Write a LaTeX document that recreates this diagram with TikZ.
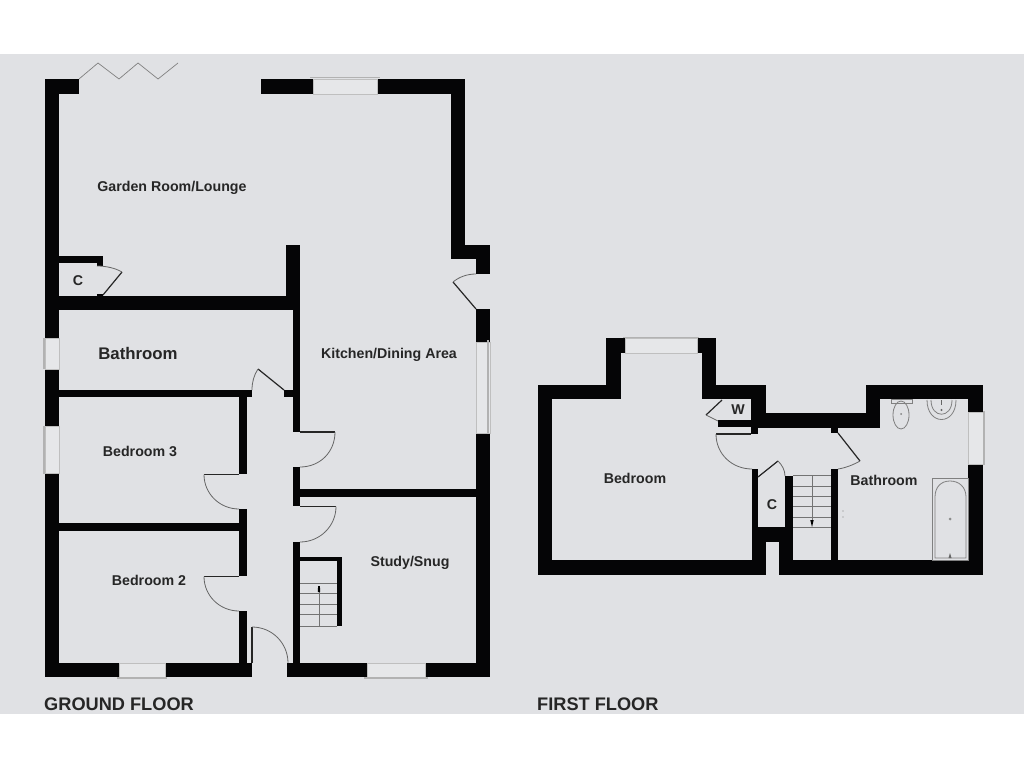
\documentclass[tikz,border=0pt]{standalone}
\usepackage{fontspec}
\setmainfont{Liberation Sans}
\definecolor{bgc}{HTML}{E0E1E4}
\definecolor{winc}{HTML}{E6E7E9}
\definecolor{wallc}{HTML}{050506}
\tikzset{
  wall/.style={fill=wallc,draw=none},
  leaf/.style={draw=black!85,line width=1.2pt},
  swing/.style={draw=black!60,line width=0.8pt},
  thin/.style={draw=black!55,line width=0.7pt},
  fix/.style={draw=black!50,line width=0.8pt,fill=none},
  winpane/.style={fill=winc,draw=black!25,line width=0.6pt},
  winedge/.style={draw=black!30,line width=1.2pt},
  room/.style={font=\bfseries\fontsize{14.2}{16}\selectfont,text=black!85,inner sep=0pt},
  title/.style={font=\bfseries\fontsize{18.2}{20}\selectfont,text=black!85,inner sep=0pt,anchor=west},
}
\begin{document}
\begin{tikzpicture}[x=1pt,y=-1pt]
\path[use as bounding box,fill=white] (0,0) rectangle (1024,768);
\fill[bgc] (0,54) rectangle (1024,714);

% ---------- GROUND FLOOR walls
\fill[wall] (45,79) rectangle (79,94);
\fill[wall] (45,79) rectangle (59,338);
\fill[wall] (45,369) rectangle (59,426);
\fill[wall] (45,473) rectangle (59,677);
\fill[wall] (261,79) rectangle (313,94);
\fill[wall] (377,79) rectangle (465,94);
\fill[wall] (451,79) rectangle (465,259);
\fill[wall] (451,245) rectangle (490,259);
\fill[wall] (476,245) rectangle (490,274);
\fill[wall] (476,309) rectangle (490,342);
\fill[wall] (476,433) rectangle (490,677);
\fill[wall] (45,663) rectangle (119,677);
\fill[wall] (165,663) rectangle (252,677);
\fill[wall] (287,663) rectangle (367,677);
\fill[wall] (425,663) rectangle (490,677);
% cupboard
\fill[wall] (59,256) rectangle (103,263);
\fill[wall] (97,263) rectangle (103,266);
\fill[wall] (97,294) rectangle (103,296);
% inner walls
\fill[wall] (59,296) rectangle (293,310);
\fill[wall] (286,245) rectangle (300,310);
\fill[wall] (293,310) rectangle (300,432);
\fill[wall] (284,390) rectangle (293,397);
\fill[wall] (59,390) rectangle (252,397);
\fill[wall] (239,397) rectangle (247,474);
\fill[wall] (239,509) rectangle (247,576);
\fill[wall] (239,611) rectangle (247,663);
\fill[wall] (59,523) rectangle (239,531);
\fill[wall] (293,467) rectangle (300,506);
\fill[wall] (300,489) rectangle (476,497);
\fill[wall] (293,542) rectangle (300,663);
% stairs walls
\fill[wall] (300,557) rectangle (342,561);
\fill[wall] (337,557) rectangle (342,626);

% ---------- ground windows
\fill[winpane] (313,79) rectangle (377,94);
\draw[winedge] (310,77.5) -- (380,77.5);
\fill[winpane] (45,338) rectangle (59,369);
\draw[winedge] (44,338) -- (44,369);
\fill[winpane] (45,426) rectangle (59,473);
\draw[winedge] (44,426) -- (44,474);
\fill[winpane] (476,342) rectangle (490,433);
\draw[winedge] (488,340) -- (488,433);
\fill[winpane] (119,663) rectangle (165,677);
\draw[winedge] (117,678) -- (167,678);
\fill[winpane] (367,663) rectangle (425,677);
\draw[winedge] (364,678) -- (428,678);

% ---------- ground doors
\draw[thin,black!50] (79,79) -- (98,63) -- (119,79) -- (138,63) -- (158,79) -- (178,63);
\draw[leaf] (103,295) -- (122,272);
\draw[swing] (122,272) .. controls (115,268) and (106,266) .. (97,266);
\draw[leaf] (476,309) -- (453,282);
\draw[swing] (453,282) .. controls (459,277) and (467,274) .. (476,274);
\draw[leaf] (284,390) -- (258,369);
\draw[swing] (258,369) .. controls (254,375) and (252,382) .. (252,390);
\draw[leaf] (300,432) -- (335,432);
\draw[swing] (335,432) .. controls (335,452) and (320,467) .. (300,467);
\draw[leaf] (300,506.5) -- (336,506.5);
\draw[swing] (336,506.5) .. controls (336,526) and (320,542) .. (300,542);
\draw[leaf] (239,474.5) -- (204,474.5);
\draw[swing] (204,474.5) .. controls (204,494) and (220,509) .. (239,509);
\draw[leaf] (239,576.5) -- (204,576.5);
\draw[swing] (204,576.5) .. controls (204,596) and (220,611) .. (239,611);
\draw[leaf] (252,627) -- (252,663);
\draw[swing] (252,627) .. controls (272,627) and (288,643) .. (288,663);

% ---------- ground stairs
\foreach \t in {583,593,604,614,626} \draw[thin] (300,\t) -- (337,\t);
\draw[thin] (319,589) -- (319,626);
\fill[black] (317.8,592) -- (320.2,592) -- (319.9,586) -- (318.1,586) -- cycle;

% ---------- FIRST FLOOR walls
\fill[wall] (538,385) rectangle (552,575);
\fill[wall] (538,385) rectangle (621,399);
\fill[wall] (606,338) rectangle (621,399);
\fill[wall] (606,338) rectangle (625,353);
\fill[wall] (697,338) rectangle (716,353);
\fill[wall] (702,338) rectangle (716,399);
\fill[wall] (702,385) rectangle (766,399);
\fill[wall] (751,385) rectangle (766,428);
\fill[wall] (751,413) rectangle (880,428);
\fill[wall] (866,385) rectangle (880,428);
\fill[wall] (866,385) rectangle (983,399);
\fill[wall] (968,385) rectangle (983,412);
\fill[wall] (968,464) rectangle (983,575);
\fill[wall] (538,560) rectangle (766,575);
\fill[wall] (779,560) rectangle (983,575);
\fill[wall] (718,420) rectangle (766,427);
\fill[wall] (751,427) rectangle (758,434);
\fill[wall] (752,469) rectangle (758,560);
\fill[wall] (752,527) rectangle (793,542);
\fill[wall] (752,542) rectangle (766,575);
\fill[wall] (779,542) rectangle (793,575);
\fill[wall] (785,476) rectangle (793,542);
\fill[wall] (831,428) rectangle (838,433);
\fill[wall] (831,469) rectangle (838,560);

% ---------- first windows
\fill[winpane] (625,338) rectangle (697,353);
\draw[winedge] (623,337.5) -- (699,337.5);
\fill[winpane] (968,412) rectangle (983,464);
\draw[winedge] (984,411) -- (984,465);

% ---------- first doors
\draw[leaf] (722,400) -- (706,415);
\draw[swing] (706,415) .. controls (710,417) and (714,419) .. (718,421);
\draw[leaf] (716,434) -- (751,434);
\draw[swing] (716,434) .. controls (716,454) and (732,469) .. (752,469);
\draw[leaf] (758,477) -- (778,461);
\draw[swing] (778,461) .. controls (782,465) and (785,470) .. (785,476);
\draw[leaf] (838,433) -- (860,461);
\draw[swing] (860,461) .. controls (853,465) and (845,468) .. (838,469);

% ---------- first stairs
\foreach \t in {475,486,496,506,517,527} \draw[thin] (793,\t) -- (831,\t);
\draw[thin] (812,475) -- (812,522);
\fill[black] (810.3,520) -- (813.7,520) -- (812,527) -- cycle;

% ---------- fixtures
\draw[fix] (891,399.5) rectangle (912,403);
\draw[fix] (901,415) ellipse (8 and 14);
\fill[black!50] (901,414) circle (1);
\draw[fix] (927,400) .. controls (927,426) and (956,426) .. (956,400);
\draw[fix] (931,400) .. controls (931,419) and (952,419) .. (952,400);
\fill[black!60] (941.5,410) circle (1.2);
\draw[black!60,line width=1pt] (941.5,400) -- (941.5,405);
\draw[fix] (932,478) rectangle (968,560);
\draw[fix] (935,558) -- (935,497) .. controls (935,487) and (941,481) .. (950,481) .. controls (959,481) and (966,487) .. (966,497) -- (966,558) -- cycle;
\fill[black!45] (950,519) circle (1.5);
\fill[black!60] (948.5,558) -- (951.5,558) -- (950,553) -- cycle;
\fill[black!50] (843,511) circle (0.7);
\fill[black!50] (843,517) circle (0.7);

% ---------- labels
\node[room] (lounge) at (172,187.5) {Garden Room/Lounge};
\node[room,font=\bfseries\fontsize{16.8}{19}\selectfont] (bath1) at (138,353) {Bathroom};
\node[room] (kitchen) at (389,355) {Kitchen/Dining Area};
\node[room] (c1) at (78,280.5) {C};
\node[room] (bed3) at (140,451) {Bedroom 3};
\node[room] (bed2) at (149,580) {Bedroom 2};
\node[room] (study) at (410,563) {Study/Snug};
\node[room] (bed1) at (635,478) {Bedroom};
\node[room] (w1) at (738,410) {W};
\node[room] (c2) at (772,505) {C};
\node[room] (bath2) at (884,480) {Bathroom};
\node[title] (gf) at (44,704) {GROUND FLOOR};
\node[title] (ff) at (537,704.5) {FIRST FLOOR};
\end{tikzpicture}
\end{document}
